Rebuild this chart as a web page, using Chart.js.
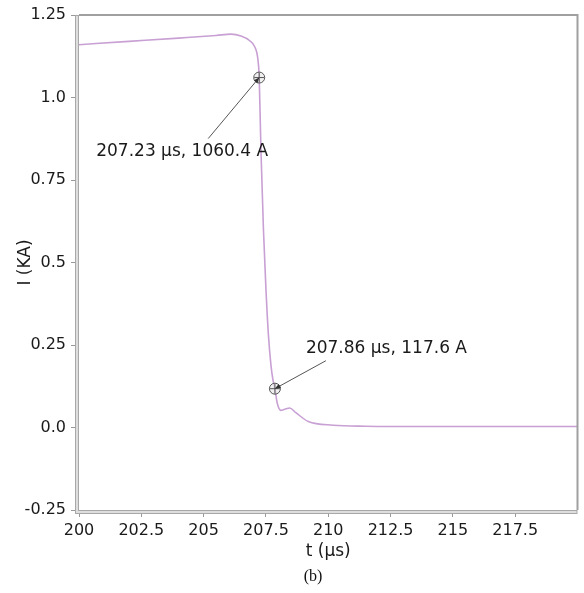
<!DOCTYPE html>
<html>
<head>
<meta charset="utf-8">
<script src="https://cdn.jsdelivr.net/npm/chart.js@4"></script>
<style>
  html, body { margin: 0; padding: 0; background: #fff; }
  #wrap { width: 584px; height: 593px; position: relative; }
</style>
</head>
<body>
<div id="wrap"><canvas id="currentChart"></canvas></div>
<script>
// time (µs) and current (kA)
const tValues = [200, 202, 204, 205.5, 206.1, 206.5, 206.85, 207.05, 207.17, 207.23, 207.3, 207.4, 207.5, 207.6, 207.7, 207.78, 207.86, 207.95, 208.1, 208.25, 208.45, 208.7, 209.2, 210.2, 211.5, 214, 220];
const iValues = [1.160, 1.170, 1.180, 1.188, 1.192, 1.186, 1.172, 1.154, 1.120, 1.0604, 0.84, 0.60, 0.42, 0.28, 0.19, 0.145, 0.1176, 0.075, 0.052, 0.055, 0.059, 0.045, 0.018, 0.007, 0.004, 0.003, 0.003];

// marked points
const markT = [207.23, 207.86];
const markI = [1.0604, 0.1176];
const markLabels = ['207.23 µs, 1060.4 A', '207.86 µs, 117.6 A'];

const xTicks = [200, 202.5, 205, 207.5, 210, 212.5, 215, 217.5];
const yTicks = [-0.25, 0, 0.25, 0.5, 0.75, 1, 1.25];
const yTickLabels = ['-0.25', '0.0', '0.25', '0.5', '0.75', '1.0', '1.25'];

document.addEventListener('DOMContentLoaded', function() {
  const ctx = document.getElementById('currentChart').getContext('2d');
  const font = 'DejaVu Sans';

  const tracePoints = tValues.map((t, i) => ({ x: t, y: iValues[i] }));
  const markPoints = markT.map((t, i) => ({ x: t, y: markI[i] }));

  // label offsets from the marker, in pixels
  const labelOffsets = [
    { lx: -163, ly: 74, ex: -51, ey: 61 },
    { lx: 31, ly: -40, ex: 51, ey: -28 }
  ];

  const framePlugin = {
    id: 'frame',
    afterDatasetsDraw(chart) {
      const c = chart.ctx;
      const a = chart.chartArea;
      const xs = chart.scales.x, ys = chart.scales.y;
      c.save();

      // annotation leader lines and text
      c.strokeStyle = '#555';
      c.lineWidth = 1;
      c.font = '17px "' + font + '"';
      c.textBaseline = 'middle';
      markPoints.forEach((p, i) => {
        const px = xs.getPixelForValue(p.x);
        const py = ys.getPixelForValue(p.y);
        const o = labelOffsets[i];
        c.beginPath();
        c.moveTo(px + o.ex, py + o.ey);
        c.lineTo(px, py);
        c.stroke();
        // small arrow head
        const ang = Math.atan2(-o.ey, -o.ex);
        c.beginPath();
        c.moveTo(px, py);
        c.lineTo(px - 6 * Math.cos(ang - 0.4), py - 6 * Math.sin(ang - 0.4));
        c.lineTo(px - 6 * Math.cos(ang + 0.4), py - 6 * Math.sin(ang + 0.4));
        c.closePath();
        c.fillStyle = '#333';
        c.fill();
        c.fillStyle = '#1a1a1a';
        c.fillText(markLabels[i], px + o.lx, py + o.ly);
      });

      // plot frame
      c.fillStyle = '#a8a8a8';
      c.fillRect(a.left - 4, a.top, 4, a.bottom - a.top + 4);
      c.fillRect(a.left - 4, a.bottom, a.right - a.left + 4, 4);
      c.fillStyle = '#dedede';
      c.fillRect(a.left - 3, a.top + 1, 2, a.bottom - a.top + 2);
      c.fillRect(a.left - 3, a.bottom + 1, a.right - a.left + 2, 2);
      c.strokeStyle = '#a0a0a0';
      c.lineWidth = 2;
      c.beginPath();
      c.moveTo(a.left, a.top);
      c.lineTo(a.right, a.top);
      c.lineTo(a.right, a.bottom);
      c.stroke();

      // caption
      c.fillStyle = '#111';
      c.font = '16px "Liberation Serif"';
      c.textAlign = 'center';
      c.fillText('(b)', 313, 577);
      c.restore();
    }
  };

  new Chart(ctx, {
    type: 'line',
    data: {
      datasets: [{
        label: 'I',
        data: tracePoints,
        borderColor: 'rgb(200, 160, 212)',
        borderWidth: 1.6,
        pointRadius: 0,
        cubicInterpolationMode: 'monotone',
        order: 2
      }, {
        label: 'mark circle',
        data: markPoints,
        showLine: false,
        pointStyle: 'circle',
        pointRadius: 5.5,
        pointBorderWidth: 1,
        pointBorderColor: '#555',
        pointBackgroundColor: 'rgba(230,230,230,0.6)',
        order: 1
      }, {
        label: 'mark cross',
        data: markPoints,
        showLine: false,
        pointStyle: 'cross',
        pointRadius: 5,
        pointBorderWidth: 1,
        pointBorderColor: '#555',
        order: 0
      }]
    },
    options: {
      responsive: true,
      maintainAspectRatio: false,
      animation: false,
      layout: { padding: { left: 0, top: 15, right: 5, bottom: 23 } },
      plugins: {
        legend: { display: false },
        tooltip: { enabled: false }
      },
      scales: {
        x: {
          type: 'linear',
          min: 200,
          max: 220,
          afterBuildTicks: scale => { scale.ticks = xTicks.map(v => ({ value: v })); },
          afterFit: scale => { scale.height = 60; },
          grid: { display: true, drawOnChartArea: false, drawTicks: true, tickLength: 7, color: '#999' },
          border: { display: false },
          ticks: {
            color: '#1a1a1a',
            padding: 4,
            maxRotation: 0,
            autoSkip: false,
            font: { family: font, size: 16 },
            callback: v => String(v)
          },
          title: {
            display: true,
            text: 't (µs)',
            color: '#1a1a1a',
            font: { family: font, size: 17 },
            padding: { top: 0, bottom: 8 }
          }
        },
        y: {
          min: -0.25,
          max: 1.25,
          afterBuildTicks: scale => { scale.ticks = yTicks.map(v => ({ value: v })); },
          afterFit: scale => { scale.width = 79; },
          grid: { display: true, drawOnChartArea: false, drawTicks: true, tickLength: 8, color: '#999' },
          border: { display: false },
          ticks: {
            color: '#1a1a1a',
            padding: 5,
            autoSkip: false,
            font: { family: font, size: 16 },
            callback: (v, i) => yTickLabels[i]
          },
          title: {
            display: true,
            text: 'I (KA)',
            color: '#1a1a1a',
            font: { family: font, size: 17 },
            padding: { top: 15, bottom: 0 }
          }
        }
      }
    },
    plugins: [framePlugin]
  });
});
</script>
</body>
</html>
